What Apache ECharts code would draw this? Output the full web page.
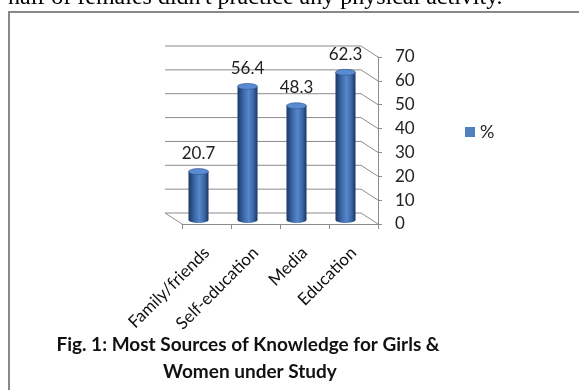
<!DOCTYPE html>
<html>
<head>
<meta charset="utf-8">
<script src="https://cdn.jsdelivr.net/npm/echarts@6/dist/echarts.min.js"></script>
<style>
  html, body { margin: 0; padding: 0; background: #fff; }
  #chart { width: 579px; height: 390px; }
</style>
</head>
<body>
<div id="chart"></div>
<script>
var categories = ['Family/friends', 'Self-education', 'Media', 'Education'];
var values = [20.7, 56.4, 48.3, 62.3];
var yTicks = [0, 10, 20, 30, 40, 50, 60, 70];

var chart = echarts.init(document.getElementById('chart'));

// offsets for the fake 3d back wall
var depthX = 17, depthY = 11;
var gridColor = '#8c8c8c';
var labelFont = 'Lato, "Open Sans", sans-serif';

function renderGrid(params, api) {
    var cs = params.coordSys;
    var y = api.coord([0, api.value(1)])[1];
    var right = cs.x + cs.width;
    var children = [
        { type: 'polyline', shape: { points: [[cs.x - depthX, y - depthY], [right - depthX, y - depthY], [right, y]] },
          style: { stroke: gridColor, lineWidth: 1, fill: null } }
    ];
    if (api.value(1) === 0) {
        children.push({ type: 'line', shape: { x1: cs.x - depthX, y1: y - depthY, x2: cs.x, y2: y },
            style: { stroke: gridColor, lineWidth: 1 } });
    }
    return { type: 'group', children: children };
}

function renderBar(params, api) {
    var top = api.coord([api.value(0), api.value(1)]);
    var base = api.coord([api.value(0), 0]);
    var cx = top[0] - 8, w = 20, ry = 3;
    var yTop = top[1] - 3, yBase = base[1] - 4;
    var body = new echarts.graphic.LinearGradient(0, 0, 1, 0, [
        { offset: 0, color: '#1b3763' },
        { offset: 0.3, color: '#3b68a8' },
        { offset: 0.55, color: '#5787c8' },
        { offset: 0.8, color: '#3a66a6' },
        { offset: 1, color: '#1a355f' }
    ]);
    return {
        type: 'group',
        children: [
            { type: 'circle', x: cx, y: yBase, scaleY: ry / (w / 2), shape: { cx: 0, cy: 0, r: w / 2 },
              style: { fill: body } },
            { type: 'rect', shape: { x: cx - w / 2, y: yTop, width: w, height: yBase - yTop },
              style: { fill: body } },
            { type: 'circle', x: cx, y: yTop, scaleY: ry / (w / 2), shape: { cx: 0, cy: 0, r: w / 2 },
              style: { fill: '#5a8ad0', stroke: '#2c5592', lineWidth: 1 } },
            { type: 'text', x: cx, y: yTop - 18,
              style: { text: String(api.value(1)), fill: '#222', font: '17px ' + labelFont, align: 'center', verticalAlign: 'middle' } }
        ]
    };
}

chart.setOption({
    backgroundColor: '#fff',
    animation: false,
    grid: { left: 182, right: 201, top: 57, bottom: 166 },
    legend: {
        data: [{ name: '%', icon: 'rect' }],
        left: 460, top: 118, itemWidth: 10, itemHeight: 10, itemGap: 5,
        textStyle: { fontFamily: labelFont, fontSize: 18, color: '#222' }
    },
    xAxis: {
        type: 'category',
        data: categories,
        axisLine: { show: true, lineStyle: { color: gridColor } },
        axisTick: { show: true, length: 5, lineStyle: { color: gridColor } },
        axisLabel: { rotate: 45, margin: 26, fontFamily: labelFont, fontSize: 17, color: '#111' }
    },
    yAxis: {
        type: 'value',
        position: 'right',
        min: 0, max: 70, interval: 10,
        splitLine: { show: false },
        axisLine: { show: true, lineStyle: { color: gridColor } },
        axisTick: { show: true, length: 4, lineStyle: { color: gridColor } },
        axisLabel: { margin: 17, fontFamily: labelFont, fontSize: 17, color: '#222' }
    },
    graphic: [
        { type: 'text', left: 8, top: -14, style: { text: "half of females didn't practice any physical activity.", font: '24px "Liberation Serif", serif', fill: '#000' } },
        { type: 'polyline', shape: { points: [[9, 390], [9, 12], [579, 12]] }, style: { stroke: '#888', lineWidth: 2, fill: null } },
        { type: 'text', x: 248, y: 345, style: { text: 'Fig. 1: Most Sources of Knowledge for Girls &', font: 'bold 19px ' + labelFont, fill: '#111', align: 'center', verticalAlign: 'middle' } },
        { type: 'text', x: 250, y: 372, style: { text: 'Women under Study', font: 'bold 19px ' + labelFont, fill: '#111', align: 'center', verticalAlign: 'middle' } }
    ],
    series: [
        {
            type: 'custom', name: 'grid', silent: true, clip: false, z: 1,
            data: yTicks.map(function (v) { return [0, v]; }),
            renderItem: renderGrid
        },
        {
            type: 'custom', name: '%', clip: false, z: 3,
            itemStyle: { color: '#4f81bd' },
            data: values.map(function (v, i) { return [i, v]; }),
            renderItem: renderBar
        }
    ]
});
</script>
</body>
</html>
